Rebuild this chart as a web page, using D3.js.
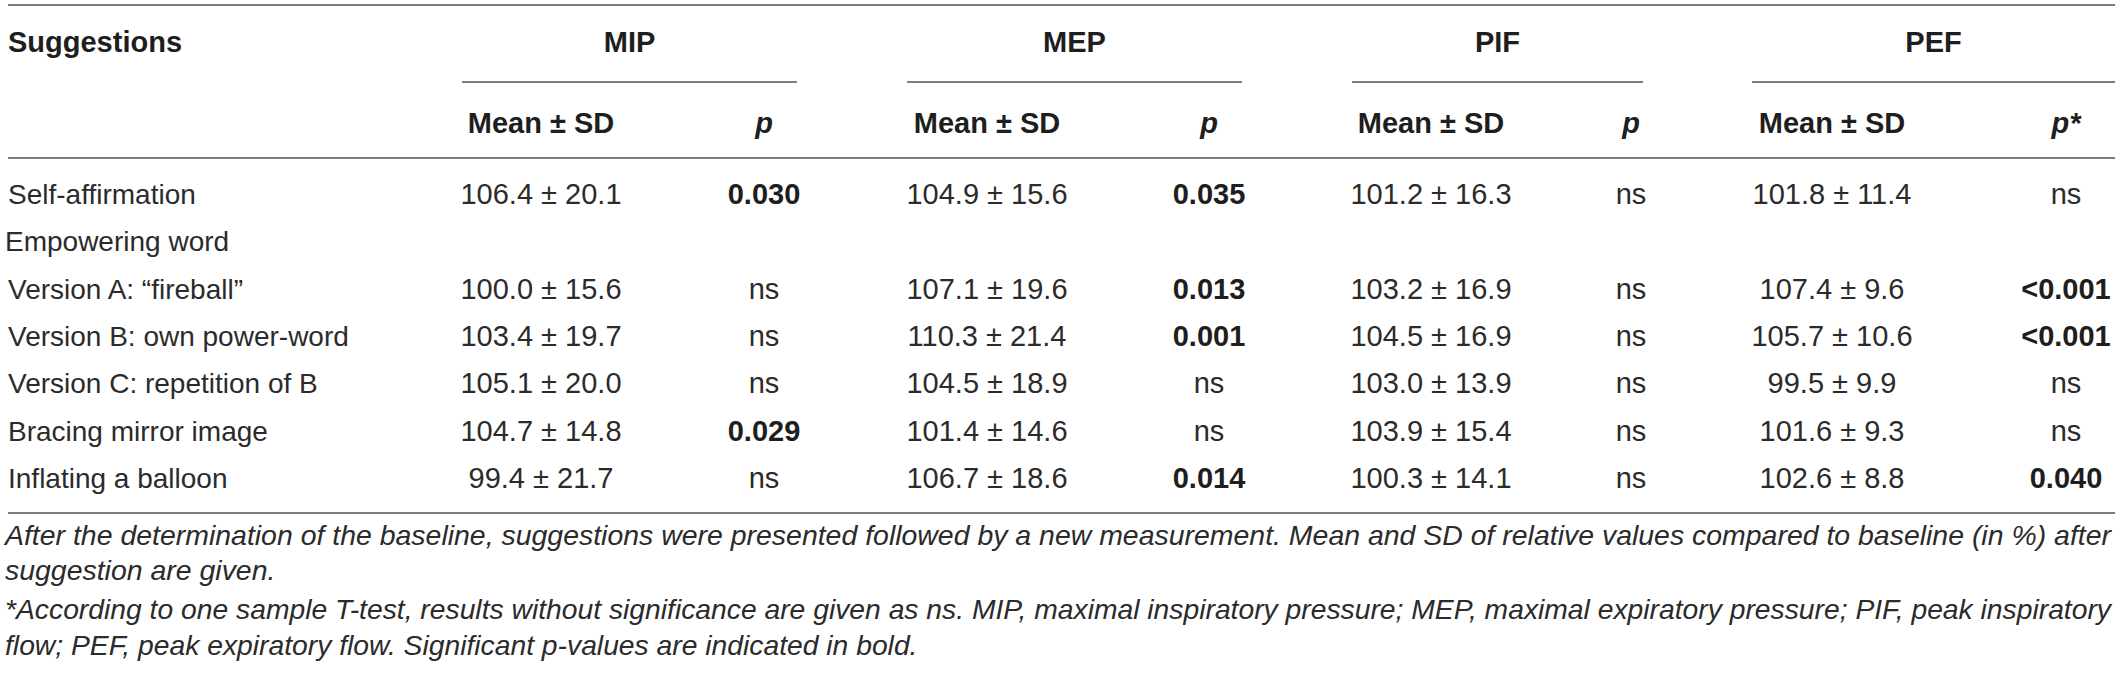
<!DOCTYPE html>
<html>
<head>
<meta charset="utf-8">
<script src="https://cdn.jsdelivr.net/npm/d3@7"></script>
<style>
  body { margin: 0; background: #fff; }
  text { font-family: "Liberation Sans", Arial, sans-serif; }
</style>
</head>
<body>
<svg width="2121" height="674"></svg>
<script>
// table values
var suggestions = ["Self-affirmation", "Empowering word", "Version A: \u201cfireball\u201d",
  "Version B: own power-word", "Version C: repetition of B", "Bracing mirror image", "Inflating a balloon"];
var groups = ["MIP", "MEP", "PIF", "PEF"];
var pLabels = ["p", "p", "p", "p*"];

var mipMean = [106.4, null, 100.0, 103.4, 105.1, 104.7, 99.4];
var mipSD   = [20.1, null, 15.6, 19.7, 20.0, 14.8, 21.7];
var mipP    = ["0.030", "", "ns", "ns", "ns", "0.029", "ns"];

var mepMean = [104.9, null, 107.1, 110.3, 104.5, 101.4, 106.7];
var mepSD   = [15.6, null, 19.6, 21.4, 18.9, 14.6, 18.6];
var mepP    = ["0.035", "", "0.013", "0.001", "ns", "ns", "0.014"];

var pifMean = [101.2, null, 103.2, 104.5, 103.0, 103.9, 100.3];
var pifSD   = [16.3, null, 16.9, 16.9, 13.9, 15.4, 14.1];
var pifP    = ["ns", "", "ns", "ns", "ns", "ns", "ns"];

var pefMean = [101.8, null, 107.4, 105.7, 99.5, 101.6, 102.6];
var pefSD   = [11.4, null, 9.6, 10.6, 9.9, 9.3, 8.8];
var pefP    = ["ns", "", "<0.001", "<0.001", "ns", "ns", "0.040"];

var notes = [
  ["After the determination of the baseline, suggestions were presented followed by a new measurement. Mean and SD of relative values compared to baseline (in %) after",
   "suggestion are given."],
  ["*According to one sample T-test, results without significance are given as ns. MIP, maximal inspiratory pressure; MEP, maximal expiratory pressure; PIF, peak inspiratory",
   "flow; PEF, peak expiratory flow. Significant p-values are indicated in bold."]
];

var means = [mipMean, mepMean, pifMean, pefMean];
var sds = [mipSD, mepSD, pifSD, pefSD];
var ps = [mipP, mepP, pifP, pefP];

var svg = d3.select("svg");
var fmt = d3.format(".1f");
var fs = 28;      // row labels, notes
var fsNum = 29;   // cells
var fsHead = 29;  // bold headers
var textColor = "#2b2b2b";
var headColor = "#1e1e1e";
var ruleColor = "#7d7d7d";

// column centres: two sub-columns per group
var colKeys = [];
groups.forEach(function(g) { colKeys.push(g + "-m"); colKeys.push(g + "-p"); });
var colX = d3.scaleOrdinal()
  .domain(colKeys)
  .range([541, 764, 987, 1209, 1431, 1631, 1832, 2066]);

var groupSpan = d3.scaleOrdinal()
  .domain(groups)
  .range([[462, 797], [907, 1242], [1352, 1643], [1752, 2115]]);

var rowY = d3.scalePoint()
  .domain(d3.range(suggestions.length))
  .range([204, 488]);

var left = 8, right = 2115;

// rules
var rules = [5, 158, 513];
svg.selectAll("line.rule")
  .data(rules)
  .enter()
  .append("line")
  .attr("class", "rule")
  .attr("x1", left).attr("x2", right)
  .attr("y1", function(d) { return d; })
  .attr("y2", function(d) { return d; })
  .attr("stroke", ruleColor)
  .attr("stroke-width", 2);

// header
svg.append("text")
  .attr("x", left).attr("y", 52)
  .attr("font-size", fsHead).attr("font-weight", "bold")
  .attr("fill", headColor)
  .text("Suggestions");

svg.selectAll("text.group")
  .data(groups)
  .enter()
  .append("text")
  .attr("class", "group")
  .attr("x", function(d) { var s = groupSpan(d); return (s[0] + s[1]) / 2; })
  .attr("y", 52)
  .attr("text-anchor", "middle")
  .attr("font-size", fsHead).attr("font-weight", "bold")
  .attr("fill", headColor)
  .text(function(d) { return d; });

svg.selectAll("line.span")
  .data(groups)
  .enter()
  .append("line")
  .attr("class", "span")
  .attr("x1", function(d) { return groupSpan(d)[0]; })
  .attr("x2", function(d) { return groupSpan(d)[1]; })
  .attr("y1", 82).attr("y2", 82)
  .attr("stroke", ruleColor)
  .attr("stroke-width", 2);

groups.forEach(function(g, gi) {
  svg.append("text")
    .attr("x", colX(g + "-m")).attr("y", 133)
    .attr("text-anchor", "middle")
    .attr("font-size", fsHead).attr("font-weight", "bold")
    .attr("fill", headColor)
    .text("Mean \u00b1 SD");
  svg.append("text")
    .attr("x", colX(g + "-p")).attr("y", 133)
    .attr("text-anchor", "middle")
    .attr("font-size", fsHead).attr("font-weight", "bold")
    .attr("font-style", "italic")
    .attr("fill", headColor)
    .text(pLabels[gi]);
});

// body rows
svg.selectAll("text.label")
  .data(suggestions)
  .enter()
  .append("text")
  .attr("class", "label")
  .attr("x", function(d, i) { return i == 1 ? 5 : left; })
  .attr("y", function(d, i) { return rowY(i); })
  .attr("font-size", fs)
  .attr("fill", textColor)
  .text(function(d) { return d; });

groups.forEach(function(g, gi) {
  var rows = d3.range(suggestions.length).filter(function(i) { return means[gi][i] != null; });

  svg.selectAll("text.mean-" + g)
    .data(rows)
    .enter()
    .append("text")
    .attr("class", "mean-" + g)
    .attr("x", colX(g + "-m"))
    .attr("y", function(i) { return rowY(i); })
    .attr("text-anchor", "middle")
    .attr("font-size", fsNum)
    .attr("fill", textColor)
    .text(function(i) { return fmt(means[gi][i]) + " \u00b1 " + fmt(sds[gi][i]); });

  svg.selectAll("text.p-" + g)
    .data(rows)
    .enter()
    .append("text")
    .attr("class", "p-" + g)
    .attr("x", colX(g + "-p"))
    .attr("y", function(i) { return rowY(i); })
    .attr("text-anchor", "middle")
    .attr("font-size", fsNum)
    .attr("font-weight", function(i) { return ps[gi][i] == "ns" ? "normal" : "bold"; })
    .attr("fill", function(i) { return ps[gi][i] == "ns" ? textColor : headColor; })
    .text(function(i) { return ps[gi][i]; });
});

// footnotes, fitted to the table width
var noteY = [[545, 580], [619, 655]];
notes.forEach(function(par, pi) {
  var nodes = par.map(function(line, li) {
    return svg.append("text")
      .attr("x", 5)
      .attr("y", noteY[pi][li])
      .attr("font-size", fs)
      .attr("font-style", "italic")
      .attr("fill", textColor)
      .text(line);
  });
  var natural = nodes[0].node().getComputedTextLength();
  var k = (2111 - 5) / natural;
  nodes.forEach(function(n) {
    n.attr("textLength", n.node().getComputedTextLength() * k)
     .attr("lengthAdjust", "spacingAndGlyphs");
  });
});
</script>
</body>
</html>
